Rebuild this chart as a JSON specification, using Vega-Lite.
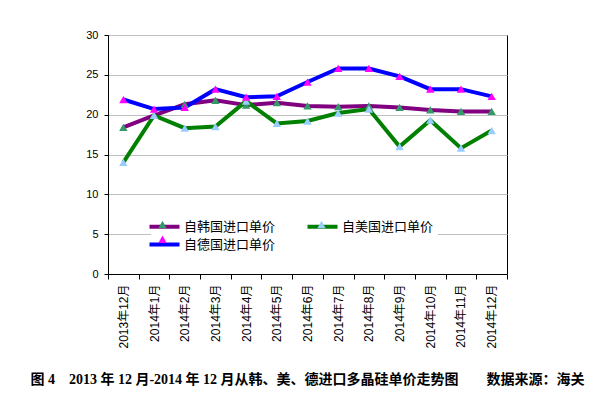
{
  "$schema": "https://vega.github.io/schema/vega-lite/v6.json",
  "autosize": {"type": "none"},
  "width": 399,
  "height": 239,
  "padding": {"left": 108, "top": 35, "right": 95, "bottom": 124},
  "background": "white",
  "title": {
    "text": "图 4\u00a0\u00a0\u00a0 2013 年 12 月-2014 年 12 月从韩、美、德进口多晶硅单价走势图\u00a0\u00a0\u00a0\u00a0\u00a0\u00a0\u00a0 数据来源：海关",
    "orient": "bottom",
    "anchor": "middle",
    "offset": 25,
    "font": "Liberation Serif, Noto Sans CJK SC",
    "fontSize": 14,
    "fontWeight": "bold",
    "color": "black"
  },
  "data": {
    "values": [
      {"m": "2013年12月", "s": "自韩国进口单价", "v": 18.4},
      {"m": "2014年1月", "s": "自韩国进口单价", "v": 19.9},
      {"m": "2014年2月", "s": "自韩国进口单价", "v": 21.3},
      {"m": "2014年3月", "s": "自韩国进口单价", "v": 21.8},
      {"m": "2014年4月", "s": "自韩国进口单价", "v": 21.2},
      {"m": "2014年5月", "s": "自韩国进口单价", "v": 21.5},
      {"m": "2014年6月", "s": "自韩国进口单价", "v": 21.1},
      {"m": "2014年7月", "s": "自韩国进口单价", "v": 21.0},
      {"m": "2014年8月", "s": "自韩国进口单价", "v": 21.1},
      {"m": "2014年9月", "s": "自韩国进口单价", "v": 20.9},
      {"m": "2014年10月", "s": "自韩国进口单价", "v": 20.6},
      {"m": "2014年11月", "s": "自韩国进口单价", "v": 20.4},
      {"m": "2014年12月", "s": "自韩国进口单价", "v": 20.4},
      {"m": "2013年12月", "s": "自美国进口单价", "v": 14.0},
      {"m": "2014年1月", "s": "自美国进口单价", "v": 19.9},
      {"m": "2014年2月", "s": "自美国进口单价", "v": 18.3},
      {"m": "2014年3月", "s": "自美国进口单价", "v": 18.5},
      {"m": "2014年4月", "s": "自美国进口单价", "v": 21.7},
      {"m": "2014年5月", "s": "自美国进口单价", "v": 18.9},
      {"m": "2014年6月", "s": "自美国进口单价", "v": 19.2},
      {"m": "2014年7月", "s": "自美国进口单价", "v": 20.2},
      {"m": "2014年8月", "s": "自美国进口单价", "v": 20.7},
      {"m": "2014年9月", "s": "自美国进口单价", "v": 16.0},
      {"m": "2014年10月", "s": "自美国进口单价", "v": 19.3},
      {"m": "2014年11月", "s": "自美国进口单价", "v": 15.8},
      {"m": "2014年12月", "s": "自美国进口单价", "v": 18.0},
      {"m": "2013年12月", "s": "自德国进口单价", "v": 21.9},
      {"m": "2014年1月", "s": "自德国进口单价", "v": 20.7},
      {"m": "2014年2月", "s": "自德国进口单价", "v": 20.9},
      {"m": "2014年3月", "s": "自德国进口单价", "v": 23.2},
      {"m": "2014年4月", "s": "自德国进口单价", "v": 22.2},
      {"m": "2014年5月", "s": "自德国进口单价", "v": 22.3},
      {"m": "2014年6月", "s": "自德国进口单价", "v": 24.1},
      {"m": "2014年7月", "s": "自德国进口单价", "v": 25.8},
      {"m": "2014年8月", "s": "自德国进口单价", "v": 25.8},
      {"m": "2014年9月", "s": "自德国进口单价", "v": 24.8},
      {"m": "2014年10月", "s": "自德国进口单价", "v": 23.2},
      {"m": "2014年11月", "s": "自德国进口单价", "v": 23.2},
      {"m": "2014年12月", "s": "自德国进口单价", "v": 22.3}
    ]
  },
  "encoding": {
    "x": {
      "field": "m",
      "type": "ordinal",
      "sort": null,
      "bandPosition": 0.5,
      "scale": {"type": "band", "paddingInner": 0, "paddingOuter": 0},
      "axis": {
        "title": null,
        "labelAngle": 270,
        "labelAlign": "right",
        "labelBaseline": "middle",
        "labelPadding": 5,
        "labelFont": "Liberation Sans, Noto Sans CJK SC",
        "labelFontSize": 12,
        "labelColor": "black",
        "tickBand": "extent",
        "tickSize": 5,
        "tickColor": "black",
        "domainColor": "black",
        "grid": false
      }
    },
    "y": {
      "field": "v",
      "type": "quantitative",
      "scale": {"domain": [0, 30], "nice": false},
      "axis": {
        "title": null,
        "values": [0, 5, 10, 15, 20, 25, 30],
        "labelFont": "Liberation Sans",
        "labelFontSize": 11,
        "labelColor": "black",
        "labelPadding": 6,
        "tickSize": 4,
        "tickColor": "black",
        "domainColor": "black",
        "gridColor": "#c0c0c0",
        "gridWidth": 1
      }
    }
  },
  "layer": [
    {
      "mark": {"type": "line", "strokeWidth": 4},
      "encoding": {
        "color": {
          "field": "s",
          "type": "nominal",
          "scale": {
            "domain": ["自韩国进口单价", "自美国进口单价", "自德国进口单价"],
            "range": ["#800080", "#008000", "#0000ff"]
          },
          "legend": {
            "title": null,
            "orient": "none",
            "legendX": 43,
            "legendY": 178,
            "direction": "horizontal",
            "columns": 2,
            "columnPadding": 23,
            "rowPadding": -2,
            "padding": 4,
            "fillColor": "white",
            "symbolType": "M-2,0L2,0",
            "symbolSize": 225,
            "symbolStrokeWidth": 4,
            "symbolOffset": 0,
            "labelOffset": 10,
            "labelFont": "Noto Sans CJK SC",
            "labelFontSize": 13,
            "labelColor": "black"
          }
        }
      }
    },
    {
      "mark": {"type": "point", "shape": "triangle-up", "filled": true, "size": 70, "opacity": 1},
      "encoding": {
        "fill": {
          "field": "s",
          "type": "nominal",
          "sort": null,
          "scale": {
            "range": ["#339966", "#99ccff", "#ff00ff"]
          },
          "legend": {
            "title": null,
            "orient": "none",
            "legendX": 43,
            "legendY": 178,
            "direction": "horizontal",
            "columns": 2,
            "columnPadding": 134,
            "rowPadding": 0,
            "padding": 4,
            "symbolType": "M-0.55,0.45L0,-0.55L0.55,0.45Z",
            "symbolSize": 225,
            "symbolStrokeWidth": 0,
            "symbolOpacity": 1,
            "symbolOffset": 0,
            "labelOffset": 10,
            "labelExpr": "''",
            "labelFontSize": 14
          }
        }
      }
    }
  ],
  "config": {
    "view": {"stroke": "black", "strokeWidth": 1}
  }
}
